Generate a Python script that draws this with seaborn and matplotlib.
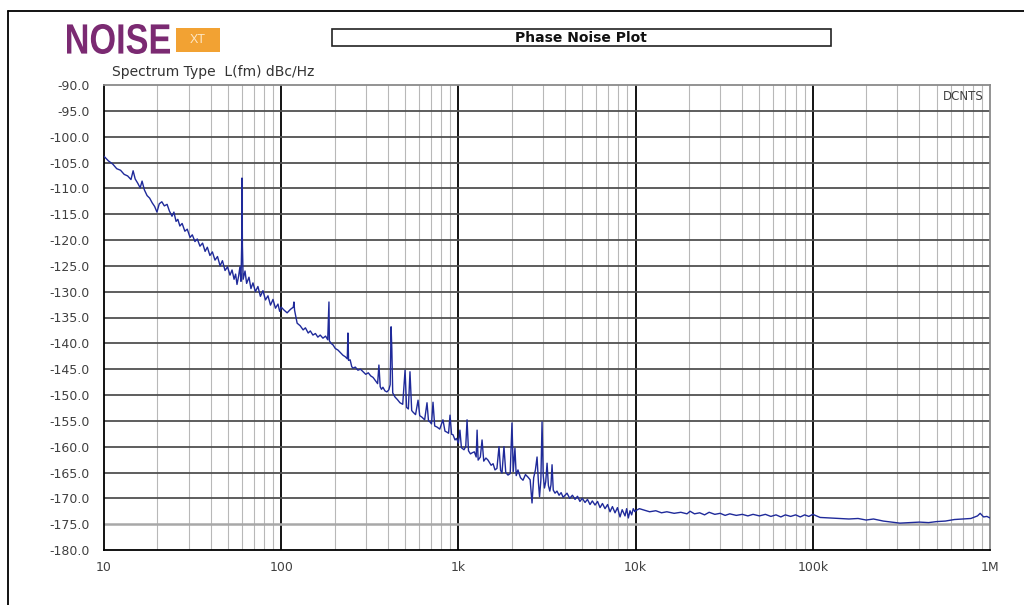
# Phase noise plot recreation (seaborn + matplotlib)
import numpy as np
import pandas as pd
import seaborn as sns
import matplotlib.pyplot as plt
from matplotlib.lines import Line2D
from matplotlib.patches import Rectangle, PathPatch
from matplotlib.textpath import TextPath
from matplotlib.font_manager import FontProperties
from matplotlib.transforms import Affine2D, IdentityTransform
from matplotlib.ticker import FixedLocator, NullFormatter

# Data: offset frequency (Hz) and L(fm) (dBc/Hz)
freq_lo = [10.0, 10.6, 11.2, 11.8, 12.4, 13.0, 13.6, 14.2, 14.6, 15.0, 15.5, 16.0, 16.4, 16.9,
           17.5, 18.1, 18.7, 19.3, 19.9, 20.5, 21.2, 21.9, 22.7, 23.4, 24.2, 24.8, 25.5, 26.1,
           26.8, 27.6, 28.6, 29.5, 30.6, 31.5, 32.6, 33.6, 34.8, 36.0, 37.2, 38.3, 39.6, 40.9,
           42.3, 43.7, 45.2, 46.6, 48.2, 49.8, 51.4, 52.8, 54.2, 55.3, 56.3, 57.5, 58.5, 59.3,
           59.8, 60.1, 60.4, 61.0, 62.5, 63.8, 65.8, 67.5, 69.3, 71.5, 73.9, 76.3, 78.9, 81.5,
           84.2, 87.0, 89.9, 92.8, 95.9, 98.0]
noise_lo = [-103.8, -104.7, -105.3, -106.2, -106.5, -107.3, -107.6, -108.3, -106.6, -108.2,
            -109.0, -109.9, -108.6, -110.3, -111.4, -111.9, -112.8, -113.5, -114.6, -113.0,
            -112.6, -113.4, -113.1, -114.4, -115.4, -114.6, -116.4, -116.0, -117.3, -116.8,
            -118.3, -117.9, -119.5, -119.0, -120.3, -119.8, -121.2, -120.6, -122.2, -121.4,
            -123.0, -122.3, -123.9, -123.2, -125.0, -124.0, -125.9, -125.2, -126.8, -125.8,
            -127.6, -126.6, -128.6, -127.0, -125.2, -128.0, -121.4, -108.0, -121.0, -127.6,
            -126.0, -128.4, -127.2, -129.4, -128.3, -130.0, -129.0, -130.9, -129.8, -131.6,
            -130.8, -132.6, -131.5, -133.2, -132.4, -133.8]

freq_mid = [100, 104, 108, 113, 117, 118, 119, 123, 128, 133, 137, 142, 146, 151, 156, 161,
            166, 172, 178, 183, 185, 186, 187, 191, 196, 202, 209, 216, 223, 230, 236, 238,
            240, 245, 250, 254, 262, 271, 280, 290, 300, 310, 320, 330, 340, 350, 356, 362,
            368, 375, 385, 395, 405, 412, 417, 421, 426, 439, 453, 468, 485, 500, 510, 522,
            533, 545, 554, 573, 592, 605, 623, 645, 665, 678, 691, 705, 719, 735, 757, 785,
            818, 840, 862, 880, 897, 915, 933, 957, 975]
noise_mid = [-133.0, -133.6, -134.1, -133.4, -133.0, -132.0, -133.6, -136.1, -136.6, -137.4,
             -137.0, -138.0, -137.6, -138.4, -138.1, -138.8, -138.4, -139.0, -138.6, -139.3,
             -134.0, -132.0, -139.5, -140.0, -140.3, -141.0, -141.3, -141.8, -142.3, -142.6,
             -143.0, -138.0, -143.3, -143.2, -144.5, -144.8, -144.6, -145.2, -145.0, -145.5,
             -146.0, -145.7, -146.3, -146.6, -147.2, -147.8, -144.2, -148.4, -148.9, -148.5,
             -149.2, -149.4, -149.0, -148.0, -136.8, -141.0, -149.6, -150.4, -150.9, -151.5,
             -151.8, -145.2, -152.4, -152.7, -145.5, -153.0, -153.3, -153.8, -151.0, -154.0,
             -154.3, -154.8, -151.5, -155.0, -155.2, -155.6, -151.4, -156.0, -156.2, -156.6,
             -154.8, -157.0, -157.2, -157.4, -153.9, -157.6, -157.7, -158.7, -158.4]

freq_hi = [1000, 1020, 1040, 1075, 1100, 1119, 1140, 1170, 1194, 1230, 1260, 1275, 1292, 1330,
           1360, 1390, 1430, 1469, 1530, 1570, 1609, 1650, 1695, 1730, 1762, 1808, 1850, 1905,
           1960, 2006, 2040, 2085, 2120, 2168, 2240, 2315, 2390, 2471, 2540, 2603, 2660, 2720,
           2779, 2830, 2870, 2920, 2965, 3010, 3060, 3110, 3165, 3220, 3280, 3330, 3377, 3430,
           3510, 3600, 3700, 3800, 3900, 3998, 4100, 4250, 4400, 4553, 4700, 4850, 5000, 5184,
           5350, 5530, 5700, 5903, 6100, 6300, 6500, 6722, 6950, 7173, 7400, 7654, 7900, 8167,
           8400, 8715, 8900, 9100, 9300, 9500, 9700, 9924]
noise_hi = [-159.3, -156.8, -160.2, -160.6, -160.0, -154.8, -160.8, -161.4, -161.2, -161.0,
            -162.0, -156.8, -162.6, -162.0, -158.7, -162.8, -162.2, -162.6, -163.6, -163.3,
            -164.5, -164.2, -160.0, -164.6, -165.1, -160.0, -165.0, -165.5, -165.2, -155.4,
            -164.8, -160.3, -165.6, -164.5, -166.0, -166.5, -165.4, -165.9, -166.4, -170.9,
            -166.0, -164.5, -162.0, -167.0, -169.7, -166.5, -155.2, -165.5, -168.0, -166.8,
            -163.2, -167.5, -168.6, -167.4, -163.5, -168.4, -169.0, -168.6, -169.4, -168.9,
            -169.8, -169.4, -169.0, -170.0, -169.4, -170.2, -169.6, -170.6, -170.0, -170.8,
            -170.2, -171.2, -170.5, -171.3, -170.6, -171.8, -171.0, -172.0, -171.2, -172.6,
            -171.6, -172.8, -171.8, -173.6, -172.2, -173.4, -172.0, -173.8, -172.4, -173.2,
            -172.0, -172.6]

freq_far = [10000, 10500, 11200, 12000, 13000, 14000, 15000, 16500, 18000, 19500, 20300,
            21500, 23000, 24500, 26000, 28000, 30000, 32000, 34000, 37000, 40000, 43000,
            46000, 50000, 54000, 58000, 62000, 66000, 70000, 75000, 80000, 85000, 90000,
            95000, 100000, 110000, 125000, 140000, 160000, 180000, 200000, 220000, 250000,
            280000, 310000, 350000, 400000, 450000, 500000, 560000, 630000, 700000, 780000,
            850000, 880000, 920000, 960000, 1000000]
noise_far = [-172.4, -172.0, -172.3, -172.6, -172.4, -172.8, -172.6, -172.9, -172.7, -173.0,
             -172.5, -173.0, -172.8, -173.2, -172.7, -173.1, -172.9, -173.3, -173.0, -173.3,
             -173.1, -173.4, -173.1, -173.4, -173.1, -173.5, -173.2, -173.6, -173.2, -173.5,
             -173.2, -173.6, -173.2, -173.5, -173.1, -173.7, -173.8, -173.9, -174.0, -173.9,
             -174.2, -174.0, -174.4, -174.6, -174.8, -174.7, -174.6, -174.7, -174.5, -174.4,
             -174.1, -174.0, -173.9, -173.4, -172.9, -173.6, -173.5, -173.8]

y_ticks = list(range(-180, -85, 5))
x_ticks = [10, 100, 1000, 10000, 100000, 1000000]
x_labels = ["10", "100", "1k", "10k", "100k", "1M"]

df = pd.DataFrame({
    "freq": freq_lo + freq_mid + freq_hi + freq_far,
    "noise": noise_lo + noise_mid + noise_hi + noise_far,
})

sns.set_style("white")
plt.rcParams["font.family"] = ["DejaVu Sans"]

W, H = 1024, 605
fig = plt.figure(figsize=(W / 100, H / 100), dpi=100)
ax = fig.add_axes([104 / W, 1 - 550 / H, 886 / W, 465 / H])

ax.set_xscale("log")
ax.set_xlim(10, 1e6)
ax.set_ylim(-180, -90)

# grid lines
minor_x = [m * 10 ** d for d in range(1, 6) for m in range(2, 10)]
for fx in minor_x:
    ax.axvline(fx, color="#b8b8b8", lw=0.8, zorder=1)
for fx in x_ticks[1:-1]:
    ax.axvline(fx, color="black", lw=1.3, zorder=2)
for yv in y_ticks[1:-1]:
    c = "#a8a8a8" if yv == -175 else "#505050"
    w = 1.8 if yv == -175 else 1.3
    ax.axhline(yv, color=c, lw=w, zorder=2)

sns.lineplot(data=df, x="freq", y="noise", ax=ax, estimator=None, sort=False,
             color="#1f2a9a", lw=1.0, zorder=3)

ax.set_xlabel("")
ax.set_ylabel("")
ax.xaxis.set_major_locator(FixedLocator(x_ticks))
ax.xaxis.set_minor_locator(FixedLocator([]))
ax.xaxis.set_minor_formatter(NullFormatter())
ax.set_xticklabels(x_labels)
ax.set_yticks(y_ticks)
ax.set_yticklabels([f"{v:.1f}" for v in y_ticks])
ax.tick_params(axis="both", which="major", length=5, width=1, color="#333333",
               labelsize=9, labelcolor="#404040", direction="out")
ax.tick_params(axis="x", pad=3)
ax.tick_params(axis="y", pad=5)

for side in ["left", "bottom"]:
    ax.spines[side].set_color("black")
    ax.spines[side].set_linewidth(1.3)
for side in ["top", "right"]:
    ax.spines[side].set_color("#8a8a8a")
    ax.spines[side].set_linewidth(1.3)

ax.text(0.993, 0.99, "DCNTS", transform=ax.transAxes, ha="right", va="top",
        fontsize=8.5, color="#404040")

# outer frame (top and left edges)
fig.add_artist(Line2D([8 / W, 1.0], [1 - 11 / H] * 2, transform=fig.transFigure,
                      color="black", lw=1.3))
fig.add_artist(Line2D([8 / W] * 2, [0.0, 1 - 11 / H], transform=fig.transFigure,
                      color="black", lw=1.3))

# logo: condensed bold "NOISE" fitted into its box (pixels, origin bottom-left)
logo = TextPath((0, 0), "NOISE", size=1,
                prop=FontProperties(family="Liberation Sans", weight="bold"))
ext = logo.get_extents()
lx0, lx1, ly0, ly1 = 67, 170, H - 54, H - 24
tr = (Affine2D().translate(-ext.x0, -ext.y0)
      .scale((lx1 - lx0) / ext.width, (ly1 - ly0) / ext.height)
      .translate(lx0, ly0))
fig.add_artist(PathPatch(tr.transform_path(logo), transform=IdentityTransform(),
                         facecolor="#7b2a72", edgecolor="none"))
fig.add_artist(Rectangle((176 / W, 1 - 52 / H), 44 / W, 24 / H,
                         transform=fig.transFigure, facecolor="#f2a233", edgecolor="none"))
fig.text(198 / W, 1 - 40 / H, "XT", ha="center", va="center", fontsize=9,
         color="#fde7c4", family="Liberation Sans")

# title box
fig.add_artist(Rectangle((332 / W, 1 - 46 / H), 499 / W, 17 / H,
                         transform=fig.transFigure, facecolor="white",
                         edgecolor="#222222", lw=1.2))
fig.text(581 / W, 1 - 38 / H, "Phase Noise Plot", ha="center", va="center",
         fontsize=10, fontweight="bold", color="#111111")

fig.text(112 / W, 1 - 72 / H, "Spectrum Type  L(fm) dBc/Hz", ha="left",
         va="center", fontsize=10, color="#333333")

fig.savefig("out.png", dpi=100)
